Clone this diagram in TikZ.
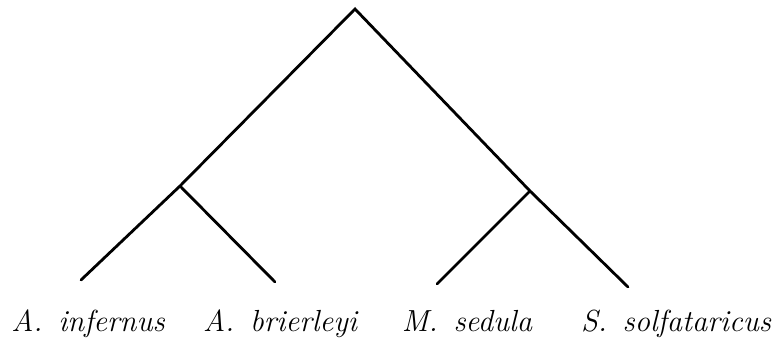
\documentclass[tikz,border=0pt]{standalone}
\begin{document}
\begin{tikzpicture}[x=1pt,y=-1pt,
  branch/.style={line width=2.8pt,line cap=round},
  taxon/.style={font=\fontsize{30.5}{36}\selectfont\itshape,anchor=base,inner sep=0pt}]
\useasboundingbox (0,0) rectangle (773,339);
\coordinate (root) at (355,9);
\coordinate (l) at (180,186);
\coordinate (r) at (530,191);
\coordinate (a) at (81,280);
\coordinate (b) at (275,282);
\coordinate (c) at (437,284);
\coordinate (d) at (628,287);
\draw[branch] (a) -- (l) -- (root) -- (r) -- (d);
\draw[branch] (l) -- (b);
\draw[branch] (r) -- (c);
\node[taxon] (ta) at (88,331) {A.\ \,infernus};
\node[taxon] (tb) at (280,331) {A.\ \,brierleyi};
\node[taxon] (tc) at (467,331) {M.\ \,sedula};
\node[taxon] (td) at (676,331) {S.\ \,solfataricus};
\end{tikzpicture}
\end{document}
